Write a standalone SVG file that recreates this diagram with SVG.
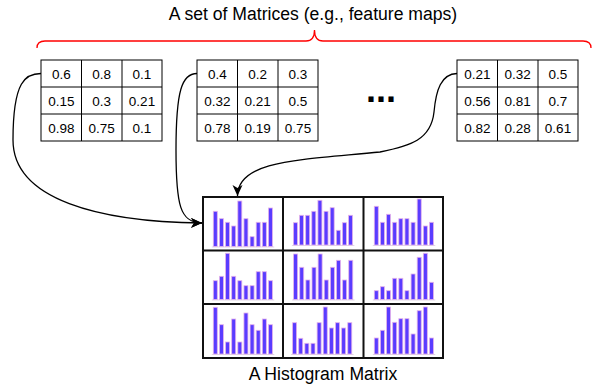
<svg xmlns="http://www.w3.org/2000/svg" width="601" height="387" viewBox="0 0 601 387">
  <style>
    .lbl { font-family: "Liberation Sans", Arial, sans-serif; fill: #000; }
    .title { font-size: 17.6px; text-anchor: middle; }
    .num { font-size: 13.5px; text-anchor: middle; }
    .grid { fill: none; stroke: #000; stroke-width: 1; }
    .hgrid { fill: none; stroke: #111; stroke-width: 2; }
    .bar { fill: #5a3cff; stroke: #e4b2ea; stroke-width: 0.8; }
    .base { stroke: #e2d6e6; stroke-width: 1.2; }
    .edge { fill: none; stroke: #000; stroke-width: 1.3; }
    .brace { fill: none; stroke: #ff0000; stroke-width: 1.3; }
  </style>
  <defs>
    <marker id="arrow" markerUnits="userSpaceOnUse" markerWidth="14" markerHeight="12" refX="11" refY="5" orient="auto">
      <path d="M0,0 L11,5 L0,10 L3,5 Z" fill="#000"/>
    </marker>
  </defs>

  <rect width="601" height="387" fill="#fff"/>

  <!-- heading and brace -->
  <g id="heading">
    <text class="lbl title" x="313" y="19.5">A set of Matrices (e.g., feature maps)</text>
    <path class="brace" d="M37,48 Q37,41 45,41 L306,41 Q314.5,41 314.5,30 Q314.5,41 323,41 L583,41 Q591,41 591,48"/>
  </g>

  <!-- matrix 1 -->
  <g id="matrix1">
    <rect class="grid" x="41" y="60" width="121" height="81"/>
    <path class="grid" d="M81.5,60 V141 M122,60 V141 M41,87 H162 M41,114 H162"/>
    <text class="lbl num" x="61.3" y="78.6">0.6</text>
    <text class="lbl num" x="101.7" y="78.6">0.8</text>
    <text class="lbl num" x="142" y="78.6">0.1</text>
    <text class="lbl num" x="61.3" y="105.6">0.15</text>
    <text class="lbl num" x="101.7" y="105.6">0.3</text>
    <text class="lbl num" x="142" y="105.6">0.21</text>
    <text class="lbl num" x="61.3" y="132.6">0.98</text>
    <text class="lbl num" x="101.7" y="132.6">0.75</text>
    <text class="lbl num" x="142" y="132.6">0.1</text>
  </g>

  <!-- matrix 2 -->
  <g id="matrix2">
    <rect class="grid" x="197" y="60" width="121" height="81"/>
    <path class="grid" d="M237.5,60 V141 M278,60 V141 M197,87 H318 M197,114 H318"/>
    <text class="lbl num" x="217.3" y="78.6">0.4</text>
    <text class="lbl num" x="257.7" y="78.6">0.2</text>
    <text class="lbl num" x="298" y="78.6">0.3</text>
    <text class="lbl num" x="217.3" y="105.6">0.32</text>
    <text class="lbl num" x="257.7" y="105.6">0.21</text>
    <text class="lbl num" x="298" y="105.6">0.5</text>
    <text class="lbl num" x="217.3" y="132.6">0.78</text>
    <text class="lbl num" x="257.7" y="132.6">0.19</text>
    <text class="lbl num" x="298" y="132.6">0.75</text>
  </g>

  <!-- ellipsis between matrices -->
  <g id="ellipsis">
    <text class="lbl" x="381" y="102" font-size="36" font-weight="bold" text-anchor="middle">...</text>
  </g>

  <!-- matrix 3 -->
  <g id="matrix3">
    <rect class="grid" x="457" y="60" width="121" height="81"/>
    <path class="grid" d="M497.5,60 V141 M538,60 V141 M457,87 H578 M457,114 H578"/>
    <text class="lbl num" x="477.3" y="78.6">0.21</text>
    <text class="lbl num" x="517.7" y="78.6">0.32</text>
    <text class="lbl num" x="558" y="78.6">0.5</text>
    <text class="lbl num" x="477.3" y="105.6">0.56</text>
    <text class="lbl num" x="517.7" y="105.6">0.81</text>
    <text class="lbl num" x="558" y="105.6">0.7</text>
    <text class="lbl num" x="477.3" y="132.6">0.82</text>
    <text class="lbl num" x="517.7" y="132.6">0.28</text>
    <text class="lbl num" x="558" y="132.6">0.61</text>
  </g>

  <!-- histogram matrix: 3x3 cells, 10 bars each -->
  <g id="histogram-matrix">
    <rect class="hgrid" x="203" y="197" width="240" height="161"/>
    <path class="hgrid" d="M283,197 V358 M363.5,197 V358 M203,250.5 H443 M203,304 H443"/>

    <!-- row 1 -->
    <g transform="translate(213.3,246.5)">
      <line class="base" x1="-1.5" y1="0.5" x2="61" y2="0.5"/>
      <rect class="bar" x="0" y="-35.2" width="4" height="35.2"/>
      <rect class="bar" x="6.13" y="-27.8" width="4" height="27.8"/>
      <rect class="bar" x="12.26" y="-24.2" width="4" height="24.2"/>
      <rect class="bar" x="18.39" y="-20.5" width="4" height="20.5"/>
      <rect class="bar" x="24.52" y="-45.5" width="4" height="45.5"/>
      <rect class="bar" x="30.65" y="-27.8" width="4" height="27.8"/>
      <rect class="bar" x="36.78" y="-9.8" width="4" height="9.8"/>
      <rect class="bar" x="42.91" y="-24.2" width="4" height="24.2"/>
      <rect class="bar" x="49.04" y="-24.2" width="4" height="24.2"/>
      <rect class="bar" x="55.17" y="-38.5" width="4" height="38.5"/>
    </g>
    <g transform="translate(293.4,245)">
      <line class="base" x1="-1.5" y1="0.5" x2="61" y2="0.5"/>
      <rect class="bar" x="0" y="-22.3" width="4" height="22.3"/>
      <rect class="bar" x="6.13" y="-29.7" width="4" height="29.7"/>
      <rect class="bar" x="12.26" y="-29.7" width="4" height="29.7"/>
      <rect class="bar" x="18.39" y="-33.7" width="4" height="33.7"/>
      <rect class="bar" x="24.52" y="-44.7" width="4" height="44.7"/>
      <rect class="bar" x="30.65" y="-33.7" width="4" height="33.7"/>
      <rect class="bar" x="36.78" y="-37.3" width="4" height="37.3"/>
      <rect class="bar" x="42.91" y="-14.7" width="4" height="14.7"/>
      <rect class="bar" x="49.04" y="-22.3" width="4" height="22.3"/>
      <rect class="bar" x="55.17" y="-29.7" width="4" height="29.7"/>
    </g>
    <g transform="translate(374.3,245)">
      <line class="base" x1="-1.5" y1="0.5" x2="61" y2="0.5"/>
      <rect class="bar" x="0" y="-38.7" width="4" height="38.7"/>
      <rect class="bar" x="6.13" y="-22.7" width="4" height="22.7"/>
      <rect class="bar" x="12.26" y="-30.7" width="4" height="30.7"/>
      <rect class="bar" x="18.39" y="-22.7" width="4" height="22.7"/>
      <rect class="bar" x="24.52" y="-26.3" width="4" height="26.3"/>
      <rect class="bar" x="30.65" y="-26.3" width="4" height="26.3"/>
      <rect class="bar" x="36.78" y="-22.7" width="4" height="22.7"/>
      <rect class="bar" x="42.91" y="-46" width="4" height="46"/>
      <rect class="bar" x="49.04" y="-19" width="4" height="19"/>
      <rect class="bar" x="55.17" y="-22.7" width="4" height="22.7"/>
    </g>

    <!-- row 2 -->
    <g transform="translate(213.3,299.5)">
      <line class="base" x1="-1.5" y1="0.5" x2="61" y2="0.5"/>
      <rect class="bar" x="0" y="-18.8" width="4" height="18.8"/>
      <rect class="bar" x="6.13" y="-23.2" width="4" height="23.2"/>
      <rect class="bar" x="12.26" y="-46.2" width="4" height="46.2"/>
      <rect class="bar" x="18.39" y="-23.2" width="4" height="23.2"/>
      <rect class="bar" x="24.52" y="-18.8" width="4" height="18.8"/>
      <rect class="bar" x="30.65" y="-13.8" width="4" height="13.8"/>
      <rect class="bar" x="36.78" y="-13.8" width="4" height="13.8"/>
      <rect class="bar" x="42.91" y="-27.8" width="4" height="27.8"/>
      <rect class="bar" x="49.04" y="-27.8" width="4" height="27.8"/>
      <rect class="bar" x="55.17" y="-18.8" width="4" height="18.8"/>
    </g>
    <g transform="translate(293.6,299.5)">
      <line class="base" x1="-1.5" y1="0.5" x2="61" y2="0.5"/>
      <rect class="bar" x="0" y="-45.5" width="4" height="45.5"/>
      <rect class="bar" x="6.13" y="-32.2" width="4" height="32.2"/>
      <rect class="bar" x="12.26" y="-19.5" width="4" height="19.5"/>
      <rect class="bar" x="18.39" y="-32.2" width="4" height="32.2"/>
      <rect class="bar" x="24.52" y="-45.5" width="4" height="45.5"/>
      <rect class="bar" x="30.65" y="-19.5" width="4" height="19.5"/>
      <rect class="bar" x="36.78" y="-32.2" width="4" height="32.2"/>
      <rect class="bar" x="42.91" y="-39.2" width="4" height="39.2"/>
      <rect class="bar" x="49.04" y="-19.5" width="4" height="19.5"/>
      <rect class="bar" x="55.17" y="-39.2" width="4" height="39.2"/>
    </g>
    <g transform="translate(374.3,299.5)">
      <line class="base" x1="-1.5" y1="0.5" x2="61" y2="0.5"/>
      <rect class="bar" x="0" y="-8.8" width="4" height="8.8"/>
      <rect class="bar" x="6.13" y="-12.8" width="4" height="12.8"/>
      <rect class="bar" x="12.26" y="-8.8" width="4" height="8.8"/>
      <rect class="bar" x="18.39" y="-21.2" width="4" height="21.2"/>
      <rect class="bar" x="24.52" y="-21.2" width="4" height="21.2"/>
      <rect class="bar" x="30.65" y="-8.8" width="4" height="8.8"/>
      <rect class="bar" x="36.78" y="-25.5" width="4" height="25.5"/>
      <rect class="bar" x="42.91" y="-42.2" width="4" height="42.2"/>
      <rect class="bar" x="49.04" y="-46.2" width="4" height="46.2"/>
      <rect class="bar" x="55.17" y="-17.2" width="4" height="17.2"/>
    </g>

    <!-- row 3 -->
    <g transform="translate(213.3,354)">
      <line class="base" x1="-1.5" y1="0.5" x2="61" y2="0.5"/>
      <rect class="bar" x="0" y="-46.7" width="4" height="46.7"/>
      <rect class="bar" x="6.13" y="-29.3" width="4" height="29.3"/>
      <rect class="bar" x="12.26" y="-12" width="4" height="12"/>
      <rect class="bar" x="18.39" y="-35" width="4" height="35"/>
      <rect class="bar" x="24.52" y="-12" width="4" height="12"/>
      <rect class="bar" x="30.65" y="-41" width="4" height="41"/>
      <rect class="bar" x="36.78" y="-29.3" width="4" height="29.3"/>
      <rect class="bar" x="42.91" y="-23.7" width="4" height="23.7"/>
      <rect class="bar" x="49.04" y="-35" width="4" height="35"/>
      <rect class="bar" x="55.17" y="-29.3" width="4" height="29.3"/>
    </g>
    <g transform="translate(292.6,354)">
      <line class="base" x1="-1.5" y1="0.5" x2="61" y2="0.5"/>
      <rect class="bar" x="0" y="-31.3" width="4" height="31.3"/>
      <rect class="bar" x="6.13" y="-15.7" width="4" height="15.7"/>
      <rect class="bar" x="12.26" y="-10.7" width="4" height="10.7"/>
      <rect class="bar" x="18.39" y="-10.7" width="4" height="10.7"/>
      <rect class="bar" x="24.52" y="-31.3" width="4" height="31.3"/>
      <rect class="bar" x="30.65" y="-47" width="4" height="47"/>
      <rect class="bar" x="36.78" y="-26" width="4" height="26"/>
      <rect class="bar" x="42.91" y="-31.3" width="4" height="31.3"/>
      <rect class="bar" x="49.04" y="-26" width="4" height="26"/>
      <rect class="bar" x="55.17" y="-31.3" width="4" height="31.3"/>
    </g>
    <g transform="translate(374.3,354)">
      <line class="base" x1="-1.5" y1="0.5" x2="61" y2="0.5"/>
      <rect class="bar" x="0" y="-16" width="4" height="16"/>
      <rect class="bar" x="6.13" y="-23.7" width="4" height="23.7"/>
      <rect class="bar" x="12.26" y="-47" width="4" height="47"/>
      <rect class="bar" x="18.39" y="-31.7" width="4" height="31.7"/>
      <rect class="bar" x="24.52" y="-35.3" width="4" height="35.3"/>
      <rect class="bar" x="30.65" y="-35.3" width="4" height="35.3"/>
      <rect class="bar" x="36.78" y="-20" width="4" height="20"/>
      <rect class="bar" x="42.91" y="-43.3" width="4" height="43.3"/>
      <rect class="bar" x="49.04" y="-47" width="4" height="47"/>
      <rect class="bar" x="55.17" y="-16" width="4" height="16"/>
    </g>
  </g>

  <g id="histogram-label">
    <text class="lbl title" x="323" y="380">A Histogram Matrix</text>
  </g>

  <!-- connectors from each matrix into the histogram matrix -->
  <g id="connectors">
    <path class="edge" marker-end="url(#arrow)" d="M41,73.5 C26,73.5 13,80 13,140 C13,200 100,222 202,223"/>
    <path class="edge" marker-end="url(#arrow)" d="M197,73.5 C182,73.5 176,90 176,150 C176,205 180,223 202,223"/>
    <path class="edge" marker-end="url(#arrow)" d="M457,73.5 C441,74 436,90 434,112 C431,140 410,146 380,152 C300,160 237.5,160 237.5,196"/>
  </g>
</svg>
